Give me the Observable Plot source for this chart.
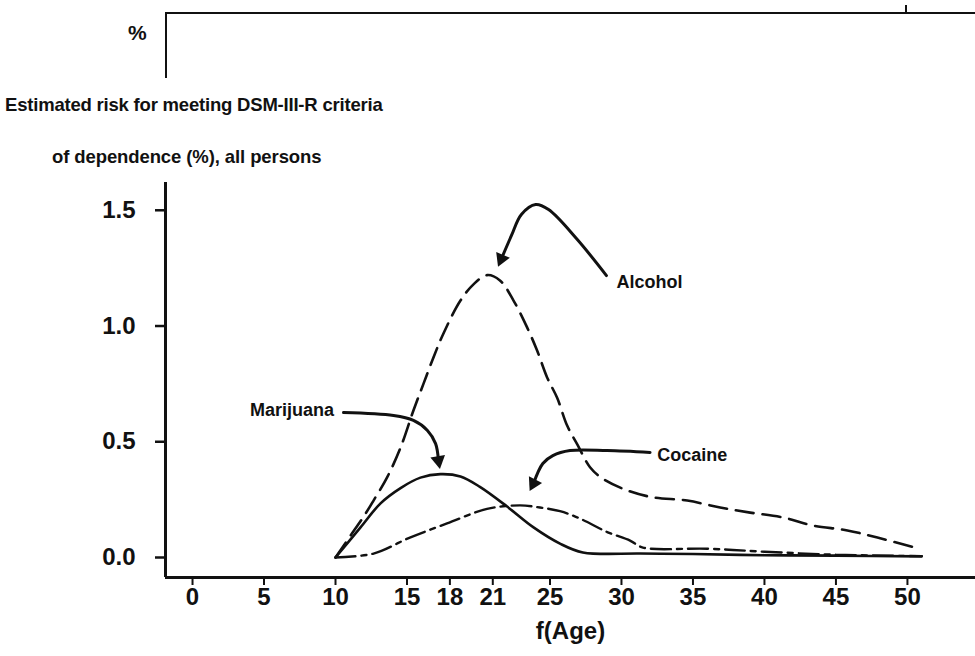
<!DOCTYPE html>
<html>
<head>
<meta charset="utf-8">
<script src="https://cdn.jsdelivr.net/npm/d3@7"></script>
<script src="https://cdn.jsdelivr.net/npm/@observablehq/plot@0.6"></script>
<style>
  html, body { margin: 0; padding: 0; background: #fff; }
  #wrap { position: relative; width: 975px; height: 656px; overflow: hidden; background: #fff;
          font-family: "Liberation Sans", Arial, Helvetica, sans-serif; color: #111; font-weight: bold; }
  #chart { position: absolute; left: 0; top: 0; }
  .abs { position: absolute; white-space: nowrap; }
  #topbox { left: 165px; top: 12px; width: 812px; height: 64px; border-top: 2.5px solid #111; border-left: 2.5px solid #111; }
  #toptick { left: 905px; top: 5px; width: 2px; height: 9px; background: #111; }
  #pct { left: 128px; top: 21px; font-size: 21px; }
  #t1 { left: 5px; top: 94px; font-size: 18.5px; letter-spacing: -0.2px; }
  #t2 { left: 52px; top: 146px; font-size: 18.5px; letter-spacing: -0.1px; }
</style>
</head>
<body>
<div id="wrap">
  <div id="chart"></div>
  <div id="topbox" class="abs"></div>
  <div id="toptick" class="abs"></div>
  <div id="pct" class="abs">%</div>
  <div id="t1" class="abs">Estimated risk for meeting DSM-III-R criteria</div>
  <div id="t2" class="abs">of dependence (%), all persons</div>
</div>
<script>
// ---- data ----
const xTicks = [0, 5, 10, 15, 18, 21, 25, 30, 35, 40, 45, 50];
const yTicks = [0, 0.5, 1.0, 1.5];

const alcoholAge = [10, 11.0, 12.0, 12.66, 13.6, 14.55, 15.45, 16.15, 16.85, 17.55, 18.74, 19.65, 20.6, 21.5, 22.45, 23.4, 24.1, 24.8, 25.5, 26.2, 26.9, 27.8, 28.7, 30.4, 32.2, 34.6, 36.9, 39.0, 41.3, 43.4, 45.8, 47.9, 50.7];
const alcoholVal = [0, 0.09, 0.18, 0.246, 0.345, 0.475, 0.635, 0.75, 0.864, 0.968, 1.11, 1.18, 1.22, 1.197, 1.11, 0.994, 0.894, 0.778, 0.69, 0.57, 0.49, 0.39, 0.34, 0.29, 0.26, 0.246, 0.216, 0.194, 0.173, 0.138, 0.117, 0.086, 0.04];

const marijuanaAge = [10, 11.75, 13.15, 14.55, 15.94, 17.34, 18.74, 20.1, 22.0, 23.85, 25.7, 27.3, 31.3, 35, 40, 45, 51];
const marijuanaVal = [0, 0.13, 0.234, 0.30, 0.345, 0.36, 0.35, 0.305, 0.22, 0.13, 0.06, 0.022, 0.017, 0.015, 0.01, 0.008, 0.005];

const cocaineAge = [10, 12.66, 15.2, 17.8, 20.6, 22.9, 24.3, 25.7, 27.1, 29.0, 30.6, 31.5, 36, 40, 45, 51];
const cocaineVal = [0, 0.017, 0.086, 0.147, 0.21, 0.225, 0.216, 0.20, 0.168, 0.11, 0.073, 0.043, 0.038, 0.025, 0.012, 0.006];

// annotation arrows (data units)
const alcoholArrowAge = [28.95, 26.85, 24.9, 24.0, 23.0, 22.3, 21.6];
const alcoholArrowVal = [1.218, 1.378, 1.503, 1.525, 1.482, 1.39, 1.29];
const marijuanaArrowAge = [10.56, 14.06, 15.45, 16.43, 17.0, 17.2];
const marijuanaArrowVal = [0.626, 0.613, 0.592, 0.549, 0.492, 0.419];
const cocaineArrowAge = [32.0, 29.0, 26.4, 25.2, 24.5, 23.85];
const cocaineArrowVal = [0.454, 0.462, 0.462, 0.44, 0.406, 0.32];

const labelNames = ["Alcohol", "Marijuana", "Cocaine"];
const labelAge = [29.65, 9.9, 32.5];
const labelVal = [1.19, 0.635, 0.44];
const labelAnchor = ["start", "end", "start"];
const headRotate = [203, 170, 207];

const xDomain = [-1.89, 54.76];
const yDomain = [-0.0864, 1.62];

// ---- build tables ----
const zip = (a, v) => a.map((x, i) => ({age: x, val: v[i]}));
const alcohol = zip(alcoholAge, alcoholVal);
const marijuana = zip(marijuanaAge, marijuanaVal);
const cocaine = zip(cocaineAge, cocaineVal);
const arrows = [
  zip(alcoholArrowAge, alcoholArrowVal),
  zip(marijuanaArrowAge, marijuanaArrowVal),
  zip(cocaineArrowAge, cocaineArrowVal)
];
const heads = arrows.map((a, i) => ({...a[a.length - 1], rot: headRotate[i]}));
const labels = labelNames.map((n, i) => ({name: n, age: labelAge[i], val: labelVal[i], anchor: labelAnchor[i]}));

const ink = "#111";
const chart = Plot.plot({
  width: 975,
  height: 656,
  marginLeft: 165,
  marginRight: 0,
  marginTop: 182,
  marginBottom: 79,
  x: {domain: xDomain},
  y: {domain: yDomain},
  style: {fontFamily: "'Liberation Sans', Arial, Helvetica, sans-serif", fontWeight: "bold", color: ink, background: "white"},
  marks: [
    Plot.axisX({ticks: xTicks, tickSize: 8, tickPadding: 2, fontSize: 24, label: null, strokeWidth: 2}),
    Plot.axisY({ticks: yTicks, tickFormat: d3.format(".1f"), tickSize: 10, tickPadding: 20, fontSize: 24, label: null, strokeWidth: 2.5}),
    Plot.ruleX([xDomain[0]], {stroke: ink, strokeWidth: 3}),
    Plot.ruleY([yDomain[0]], {stroke: ink, strokeWidth: 3}),
    Plot.text(["f(Age)"], {frameAnchor: "bottom", dy: 61, fontSize: 24, fill: ink}),
    Plot.line(alcohol, {x: "age", y: "val", curve: "catmull-rom", stroke: ink, strokeWidth: 2.6, strokeDasharray: "18 9"}),
    Plot.line(cocaine, {x: "age", y: "val", curve: "catmull-rom", stroke: ink, strokeWidth: 2.4, strokeDasharray: "20 6 5 6"}),
    Plot.line(marijuana, {x: "age", y: "val", curve: "catmull-rom", stroke: ink, strokeWidth: 2.6}),
    ...arrows.map(a => Plot.line(a, {x: "age", y: "val", curve: "catmull-rom", stroke: ink, strokeWidth: 3})),
    Plot.dot(heads, {x: "age", y: "val", symbol: "triangle", r: 5.5, fill: ink, stroke: "none", rotate: "rot"}),
    Plot.text(labels.filter(d => d.anchor === "start"), {x: "age", y: "val", text: "name", textAnchor: "start", fontSize: 18, fill: ink}),
    Plot.text(labels.filter(d => d.anchor === "end"), {x: "age", y: "val", text: "name", textAnchor: "end", fontSize: 18, fill: ink})
  ]
});
document.getElementById("chart").appendChild(chart);
</script>
</body>
</html>
